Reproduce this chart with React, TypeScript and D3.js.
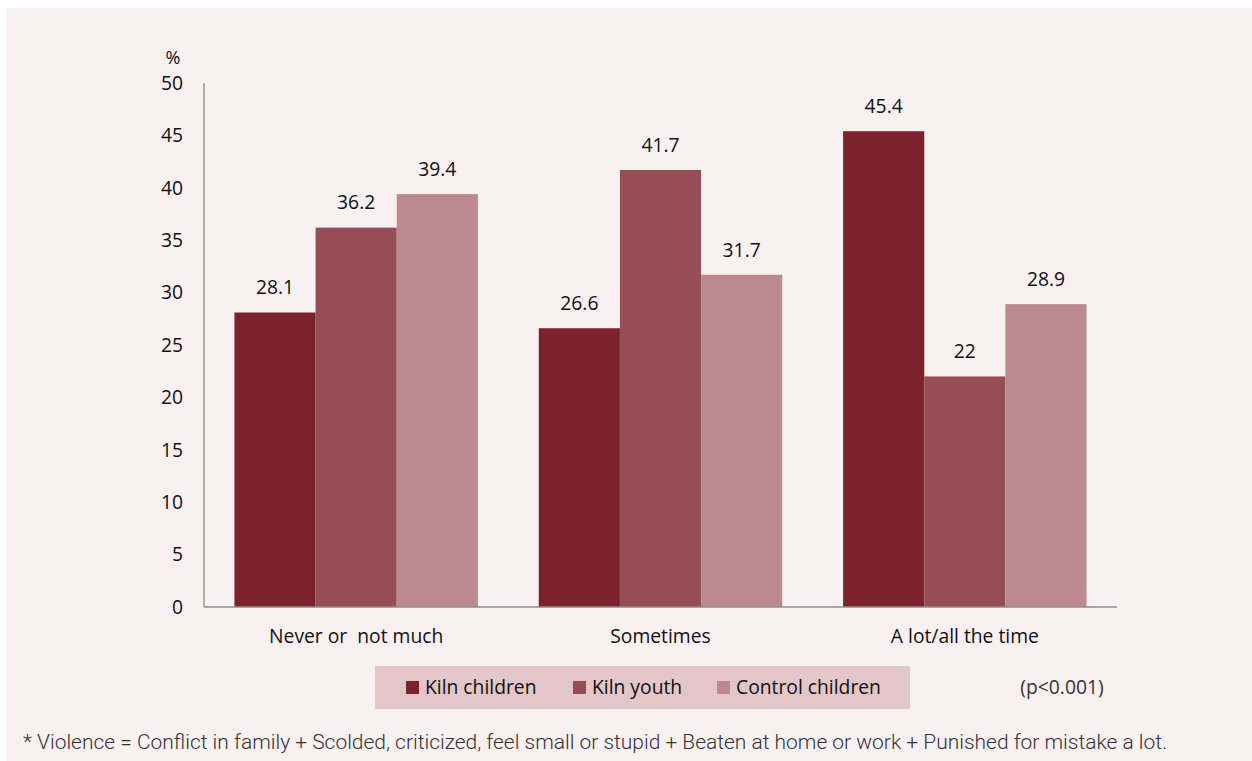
import React from "react";
import * as d3 from "d3";

const categories = ["Never or  not much", "Sometimes", "A lot/all the time"];
const seriesNames = ["Kiln children", "Kiln youth", "Control children"];
const kilnChildren = [28.1, 26.6, 45.4];
const kilnYouth = [36.2, 41.7, 22];
const controlChildren = [39.4, 31.7, 28.9];
const yTicks = [0, 5, 10, 15, 20, 25, 30, 35, 40, 45, 50];
const colors = ["#7c222d", "#964e56", "#bc8a8c"];

const W = 1252;
const H = 761;
const plot = { left: 204, right: 1117, top: 83, bottom: 607 };
const font = "'Open Sans', Lato, sans-serif";
const fs = 19.3;

export default function App() {
  const series = [kilnChildren, kilnYouth, controlChildren];
  const x0 = d3.scaleBand<string>().domain(categories).range([plot.left, plot.right]).paddingInner(0).paddingOuter(0);
  const x1 = d3
    .scaleBand<string>()
    .domain(seriesNames)
    .range([0, x0.bandwidth()])
    .paddingInner(0)
    .paddingOuter(0.375);
  const y = d3.scaleLinear().domain([0, 50]).range([plot.bottom, plot.top]);

  const legendX = [406, 573, 717];

  return (
    <div style={{ position: "absolute", left: 0, top: 0 }}>
      <svg width={W} height={H} style={{ display: "block" }}>
        <rect x={0} y={0} width={W} height={H} fill="#ffffff" />
        <rect x={6} y={8} width={W - 6} height={H - 8} fill="#f9f0f1" />

        {/* y axis */}
        <line x1={plot.left} x2={plot.left} y1={plot.top} y2={plot.bottom} stroke="#8c8c8c" strokeWidth={1.3} />
        {yTicks.map((t) => (
          <text
            key={t}
            x={183}
            y={y(t)}
            dy="0.35em"
            textAnchor="end"
            fontFamily={font}
            fontSize={fs}
            fill="#111111"
          >
            {t}
          </text>
        ))}
        <text x={173} y={58} dy="0.35em" textAnchor="middle" fontFamily={font} fontSize={18} fill="#111111">
          %
        </text>

        {/* bars */}
        {categories.map((c, ci) => (
          <g key={c}>
            {series.map((s, si) => {
              const bx = (x0(c) ?? 0) + (x1(seriesNames[si]) ?? 0);
              const v = s[ci];
              return (
                <g key={si}>
                  <rect x={bx} y={y(v)} width={x1.bandwidth()} height={plot.bottom - y(v)} fill={colors[si]} />
                  <text
                    x={bx + x1.bandwidth() / 2}
                    y={y(v) - 25}
                    dy="0.35em"
                    textAnchor="middle"
                    fontFamily={font}
                    fontSize={fs}
                    fill="#111111"
                  >
                    {v}
                  </text>
                </g>
              );
            })}
            <text
              x={(x0(c) ?? 0) + x0.bandwidth() / 2}
              y={636}
              dy="0.35em"
              textAnchor="middle"
              fontFamily={font}
              fontSize={fs}
              fill="#111111"
              style={{ whiteSpace: "pre" }}
            >
              {c}
            </text>
          </g>
        ))}

        {/* x axis */}
        <line x1={plot.left} x2={plot.right} y1={plot.bottom} y2={plot.bottom} stroke="#8c8c8c" strokeWidth={1.3} />

        {/* legend */}
        <rect x={375} y={666} width={535} height={43} fill="#e2c6c9" />
        {seriesNames.map((n, i) => (
          <g key={n}>
            <rect x={legendX[i]} y={681} width={13} height={13} fill={colors[i]} />
            <text x={legendX[i] + 19} y={687} dy="0.35em" fontFamily={font} fontSize={fs} fill="#111111">
              {n}
            </text>
          </g>
        ))}
        <text x={1062} y={687} dy="0.35em" textAnchor="middle" fontFamily={font} fontSize={fs} fill="#333333">
          (p&lt;0.001)
        </text>

        {/* footnote */}
        <text
          x={23}
          y={742}
          dy="0.35em"
          fontFamily="Roboto, sans-serif"
          fontWeight={300}
          fontSize={20}
          textLength={1144}
          lengthAdjust="spacingAndGlyphs"
          fill="#333333"
        >
          * Violence = Conflict in family + Scolded, criticized, feel small or stupid + Beaten at home or work + Punished for mistake a lot.
        </text>
      </svg>
    </div>
  );
}
